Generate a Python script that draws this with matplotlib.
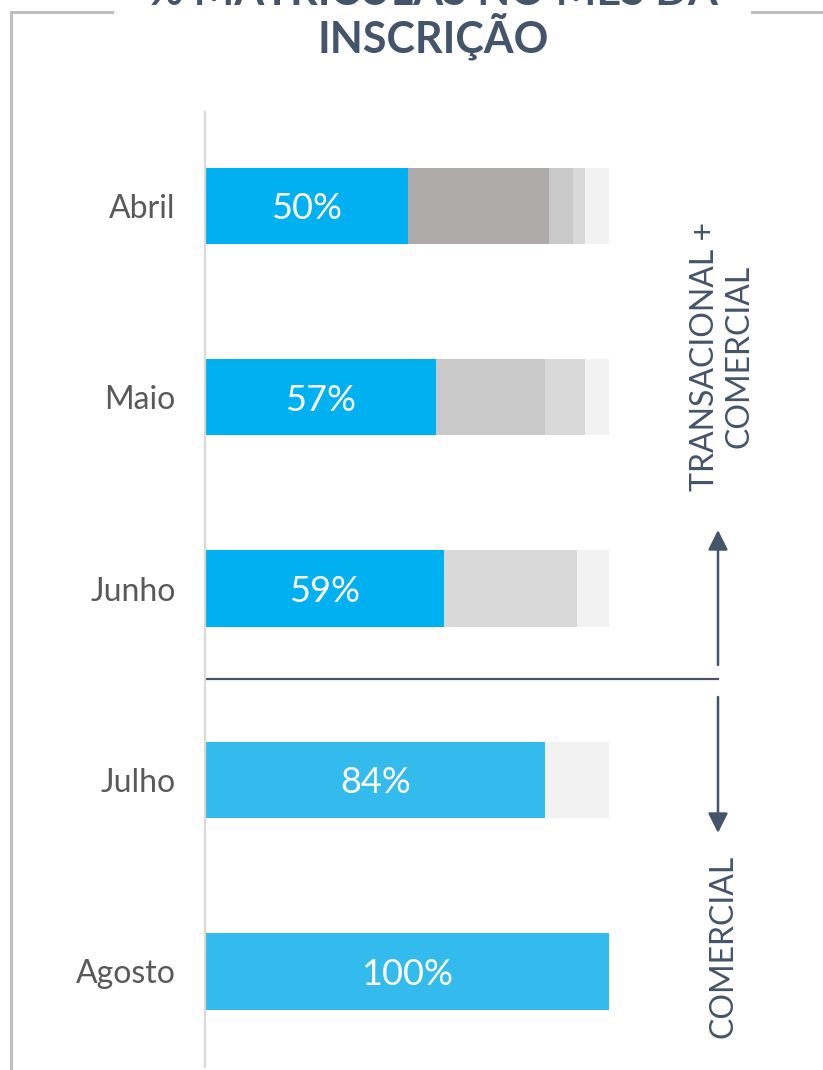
import matplotlib.pyplot as plt

# % de matrículas acumuladas, por mês de inscrição (segmentos por mês de calendário)
meses = ["Abril", "Maio", "Junho", "Julho", "Agosto"]
abril = [50, 35, 6, 3, 6]
maio = [57, 27, 10, 6]
junho = [59, 33, 8]
julho = [84, 16]
agosto = [100]
linhas = [abril, maio, junho, julho, agosto]

azul_trans = "#00b0f0"
azul_com = "#33bbed"
cinzas = {"Maio": "#aeaaaa", "Junho": "#c9c9c9", "Julho": "#d9d9d9", "Agosto": "#f2f2f2"}
escuro = "#44546a"

plt.rcParams["font.family"] = ["Lato", "DejaVu Sans"]

W, H = 823, 1070
fig = plt.figure(figsize=(W / 100, H / 100), dpi=100)


def fx(p):
    return p / W


def fy(p):
    return 1 - p / H


ax = fig.add_axes([fx(206), fy(1067), fx(609) - fx(206), fy(112) - fy(1067)])

for i, (mes, segs) in enumerate(zip(meses, linhas)):
    left = 0
    for j, v in enumerate(segs):
        if j == 0:
            cor = azul_trans if i < 3 else azul_com
        else:
            cor = cinzas[meses[i + j]]
        ax.barh(i, v, left=left, height=0.40, color=cor, edgecolor="none")
        if j == 0:
            ax.text(left + v / 2, i, f"{v}%", ha="center", va="center_baseline",
                    color="white", fontsize=26)
        left += v

ax.set_xlim(0, 100)
ax.set_ylim(4.5, -0.49)
ax.spines["left"].set_position(("outward", 1))
ax.set_yticks(range(len(meses)))
ax.set_yticklabels(meses)
ax.tick_params(axis="y", length=0, pad=21, labelsize=23, labelcolor="#595959")
ax.set_xticks([])
for s in ["top", "right", "bottom"]:
    ax.spines[s].set_visible(False)
ax.spines["left"].set_color("#d9d9d9")
ax.spines["left"].set_linewidth(1.6)

# divisória entre os dois grupos
ax.plot([0, 127], [2.473, 2.473], color=escuro, lw=1.6, clip_on=False)

# setas
seta = dict(arrowstyle="-|>,head_length=0.6,head_width=0.3", mutation_scale=20,
            color=escuro, lw=1.8, shrinkA=0, shrinkB=0)
fig.add_artist(plt.matplotlib.patches.FancyArrowPatch(
    (fx(718), fy(665)), (fx(718), fy(530)), transform=fig.transFigure, **seta))
fig.add_artist(plt.matplotlib.patches.FancyArrowPatch(
    (fx(718), fy(697)), (fx(718), fy(833)), transform=fig.transFigure, **seta))

fig.text(fx(722), fy(356), "TRANSACIONAL +\nCOMERCIAL", rotation=90,
         ha="center", va="center", multialignment="center",
         fontsize=23, color=escuro)
fig.text(fx(723), fy(946), "COMERCIAL", rotation=90, ha="center", va="center",
         fontsize=23, color=escuro)

# moldura
fig.add_artist(plt.Line2D([fx(11), fx(11)], [fy(12), 0], color="#bfbfbf", lw=2.2))
fig.add_artist(plt.Line2D([fx(11), fx(112)], [fy(12), fy(12)], color="#bfbfbf", lw=2.2))
fig.add_artist(plt.Line2D([fx(752), 1], [fy(12), fy(12)], color="#bfbfbf", lw=2.2))

# título (linha de cima cortada como na imagem)
fig.text(fx(433), fy(5), "% MATRÍCULAS NO MÊS DA", ha="center", va="baseline",
         fontsize=31, fontweight="bold", color=escuro)
fig.text(fx(433), fy(53), "INSCRIÇÃO", ha="center", va="baseline",
         fontsize=31, fontweight="bold", color=escuro)

fig.savefig("out.png", dpi=100)
